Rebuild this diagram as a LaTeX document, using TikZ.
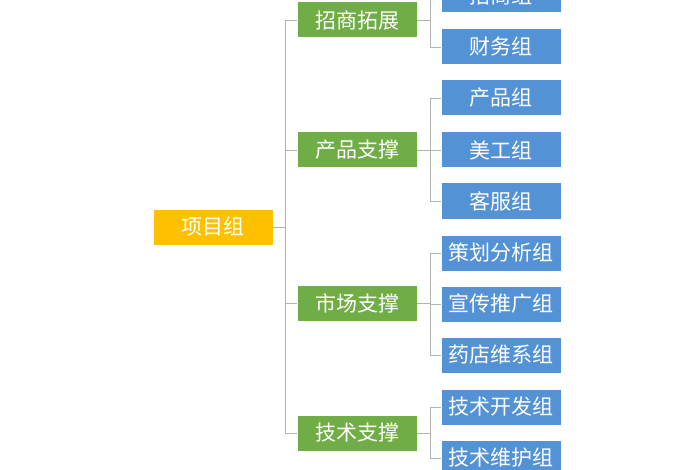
\documentclass[tikz,border=0pt]{standalone}
\usepackage{fontspec}
\setmainfont{Noto Sans CJK SC}
\begin{document}
\begin{tikzpicture}[x=1pt,y=-1pt,
  box/.style={minimum width=119pt,minimum height=35pt,inner sep=0pt,text=white,font=\fontsize{21}{21}\selectfont},
  rootb/.style={box,fill=orange!90!yellow},
  grn/.style={box,fill=green!45!black!70!lime,draw=green!35!black!60!white},
  blu/.style={box,fill=blue!35!cyan!70!black!90!white,draw=blue!30!gray},
  ln/.style={draw=gray!60,line width=0.8pt}]
\useasboundingbox (0,0) rectangle (700,470);
\clip (0,0) rectangle (700,470);
\colorlet{grn}{green!45!black!70!lime}
\node[rootb,fill={rgb,255:red,255;green,192;blue,0}] (r) at (213,227) {项目组};
\tikzset{grn/.style={box,fill={rgb,255:red,112;green,173;blue,71}},
  blu/.style={box,fill={rgb,255:red,84;green,146;blue,214}}}
\node[grn] (g1) at (357,20) {招商拓展};
\node[grn] (g2) at (357,150) {产品支撑};
\node[grn] (g3) at (357,303) {市场支撑};
\node[grn] (g4) at (357,433) {技术支撑};
\foreach \n/\y/\t in {b1/-5/招商组,b2/47/财务组,b3/98/产品组,b4/150/美工组,b5/201/客服组,b6/253/策划分析组,b7/304/宣传推广组,b8/355/药店维系组,b9/407/技术开发组,b10/458/技术维护组}
  \node[blu] (\n) at (501,\y) {\t};
\coordinate (t) at (285,0);
\draw[ln] (r.east) -- (t |- r.east);
\draw[ln] (t |- g1.west) -- (t |- g4.west);
\foreach \g in {g1,g2,g3,g4} \draw[ln] (t |- \g.west) -- (\g.west);
\coordinate (s) at (430,0);
\foreach \g/\a/\b in {g1/b1/b2,g2/b3/b5,g3/b6/b8,g4/b9/b10}{
  \draw[ln] (\g.east) -- (s |- \g.east);
  \draw[ln] (s |- \a.west) -- (s |- \b.west);
  }
\foreach \b in {b1,b2,b3,b4,b5,b6,b7,b8,b9,b10} \draw[ln] (s |- \b.west) -- (\b.west);
\end{tikzpicture}
\end{document}
